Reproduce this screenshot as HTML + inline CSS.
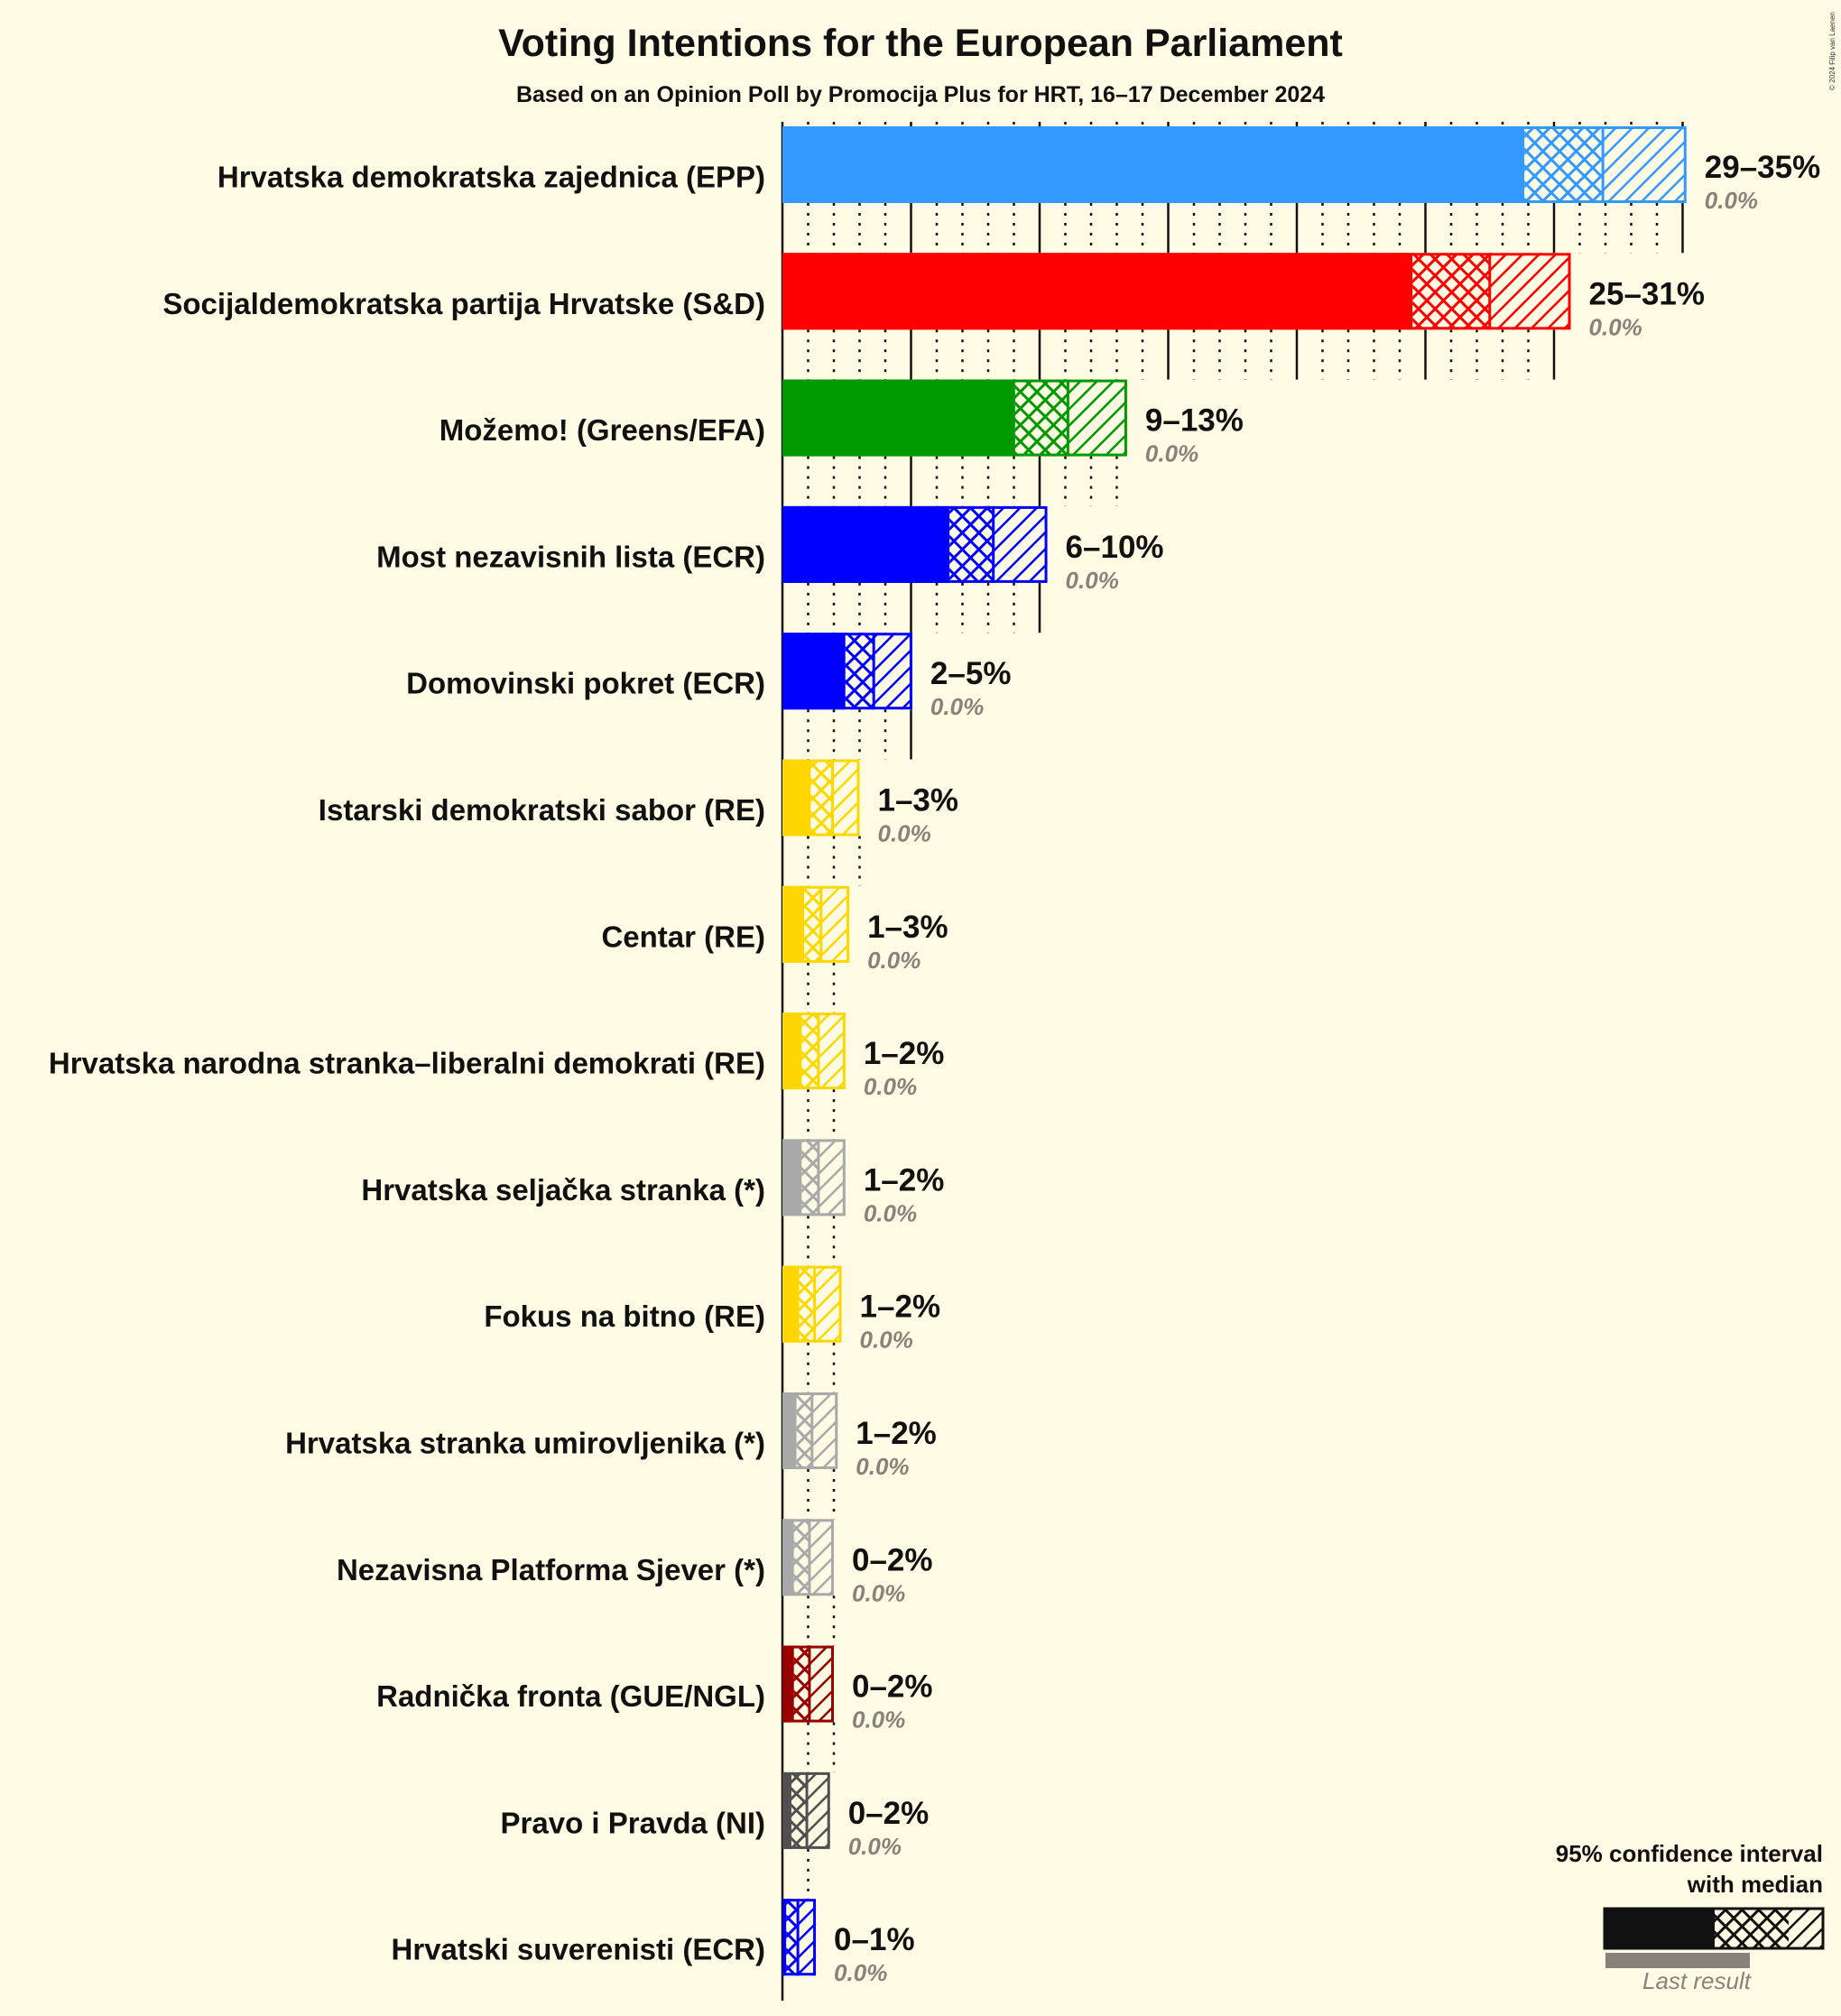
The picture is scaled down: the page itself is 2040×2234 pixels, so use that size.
<!DOCTYPE html>
<html><head><meta charset="utf-8">
<style>
html,body{margin:0;padding:0;background:#fefbe4;}
svg{display:block;}
text{font-family:"Liberation Sans",sans-serif;}
</style></head>
<body>
<svg id="chart" width="2040" height="2234" viewBox="0 0 2040 2234" xmlns="http://www.w3.org/2000/svg">
<rect width="2040" height="2234" fill="#fefbe4"/>
<text x="1020" y="62" text-anchor="middle" font-size="43" font-weight="bold" fill="#111">Voting Intentions for the European Parliament</text>
<text x="1020" y="113" text-anchor="middle" font-size="25" font-weight="bold" fill="#111">Based on an Opinion Poll by Promocija Plus for HRT, 16–17 December 2024</text>
<text transform="translate(2033,100) rotate(-90)" font-size="8" fill="#333">© 2024 Filip van Laenen</text>
<g id="grid"></g>
<g id="bars"></g>
<g id="legend">
<text x="2020" y="2063" text-anchor="end" font-size="26" font-weight="bold" fill="#111">95% confidence interval</text>
<text x="2020" y="2097" text-anchor="end" font-size="26" font-weight="bold" fill="#111">with median</text>
<rect x="1779" y="2164" width="160" height="17" fill="#86847a"/>
<rect x="1778" y="2115" width="122" height="44" fill="#111"/>
<rect x="1900" y="2115" width="82" height="44" fill="url(#cross-111)"/>
<rect x="1982" y="2115" width="38" height="44" fill="url(#hatch-111)"/>
<rect x="1778" y="2115" width="242" height="44" fill="none" stroke="#111" stroke-width="3"/>
<text x="1880" y="2204" text-anchor="middle" font-size="26" font-style="italic" fill="#86847a">Last result</text>
</g>
</svg>
<script>
const parties = ["Hrvatska demokratska zajednica (EPP)","Socijaldemokratska partija Hrvatske (S&D)","Možemo! (Greens/EFA)","Most nezavisnih lista (ECR)","Domovinski pokret (ECR)","Istarski demokratski sabor (RE)","Centar (RE)","Hrvatska narodna stranka–liberalni demokrati (RE)","Hrvatska seljačka stranka (*)","Fokus na bitno (RE)","Hrvatska stranka umirovljenika (*)","Nezavisna Platforma Sjever (*)","Radnička fronta (GUE/NGL)","Pravo i Pravda (NI)","Hrvatski suverenisti (ECR)"];
const lower = [28.85,24.5,9.05,6.5,2.45,1.1,0.85,0.75,0.75,0.65,0.55,0.45,0.45,0.35,0.15];
const median = [31.9,27.5,11.1,8.2,3.55,1.95,1.5,1.4,1.4,1.25,1.15,1.05,1.05,0.95,0.6];
const upper = [35.15,30.65,13.4,10.3,5.05,3.0,2.6,2.45,2.45,2.3,2.15,2.0,2.0,1.85,1.3];
const rangeLabels = ["29–35%","25–31%","9–13%","6–10%","2–5%","1–3%","1–3%","1–2%","1–2%","1–2%","1–2%","0–2%","0–2%","0–2%","0–1%"];
const lastResult = ["0.0%","0.0%","0.0%","0.0%","0.0%","0.0%","0.0%","0.0%","0.0%","0.0%","0.0%","0.0%","0.0%","0.0%","0.0%"];
const colors = ["#3399FF","#FF0000","#009900","#0000FF","#0000FF","#FFD700","#FFD700","#FFD700","#A9A9A9","#FFD700","#A9A9A9","#A9A9A9","#990000","#505050","#0000FF"];

const NS="http://www.w3.org/2000/svg";
const X0=867, PX=28.5, TOP=140, PITCH=140.3, BH=85;
const xs=v=>X0+v*PX;
const rowTop=i=>TOP+i*PITCH;
function mk(tag,attrs,parent){const e=document.createElementNS(NS,tag);for(const k in attrs)e.setAttribute(k,attrs[k]);parent.appendChild(e);return e;}
const svg=document.getElementById('chart');
const defs=mk('defs',{},svg);
const made={};
function patterns(c){
  const id=c.replace('#','');
  if(made[id])return id;made[id]=1;
  const p1=mk('pattern',{id:'cross-'+id,patternUnits:'userSpaceOnUse',width:13,height:13,patternTransform:'rotate(45)'},defs);
  mk('rect',{width:13,height:13,fill:'#fefbe4'},p1);
  mk('path',{d:'M0 0H13M0 0V13',stroke:c,'stroke-width':6},p1);
  const p2=mk('pattern',{id:'hatch-'+id,patternUnits:'userSpaceOnUse',width:13,height:13,patternTransform:'rotate(45)'},defs);
  mk('rect',{width:13,height:13,fill:'#fefbe4'},p2);
  mk('path',{d:'M0 0V13',stroke:c,'stroke-width':5},p2);
  return id;
}
patterns('#111');
const grid=document.getElementById('grid');
const bars=document.getElementById('bars');
const ax=mk('line',{x1:X0,x2:X0,y1:TOP-5,y2:2217,stroke:'#111','stroke-width':2.5},grid);


function ticks(y1,y2,maxv){
  for(let t=1;t<=Math.floor(maxv);t++){
    const major=t%5===0;
    const l=mk('line',{x1:xs(t),x2:xs(t),y1:y1,y2:y2,stroke:'#111','stroke-width':2.5,'stroke-dasharray':major?'none':'3,8'},grid);
    
    
  }
}
ticks(TOP-5,TOP,upper[0]);
parties.forEach((p,i)=>{
  const y=rowTop(i), c=colors[i], id=patterns(c);
  if(i<parties.length-1) ticks(y+BH,rowTop(i+1),upper[i]);
  const g=mk('g',{},bars);
  
  
  const lab=mk('text',{x:848,y:y+BH/2+25,'text-anchor':'end','font-size':33,'font-weight':'bold',fill:'#111'},g);
  lab.textContent=p;
  
  
  const r1=mk('rect',{x:X0,y:y,width:xs(lower[i])-X0,height:BH,fill:c},g);
  
  
  const r2=mk('rect',{x:xs(lower[i]),y:y,width:xs(median[i])-xs(lower[i]),height:BH,fill:'url(#cross-'+id+')'},g);
  
  
  const r3=mk('rect',{x:xs(median[i]),y:y,width:xs(upper[i])-xs(median[i]),height:BH,fill:'url(#hatch-'+id+')'},g);
  
  
  const md=mk('line',{x1:xs(median[i]),x2:xs(median[i]),y1:y,y2:y+BH,stroke:c,'stroke-width':3},g);
  
  
  const ol=mk('rect',{x:X0+1.5,y:y+1.5,width:xs(upper[i])-X0-3,height:BH-3,fill:'none',stroke:c,'stroke-width':3},g);
  
  
  const vx=xs(upper[i])+20;
  const t1=mk('text',{x:vx,y:y+57,'font-size':35,'font-weight':'bold',fill:'#111'},g);
  t1.textContent=rangeLabels[i];
  
  
  const t2=mk('text',{x:vx,y:y+91,'font-size':26,'font-style':'italic','font-weight':'bold',fill:'#86847a'},g);
  t2.textContent=lastResult[i];
  
  
});
</script>
</body></html>
